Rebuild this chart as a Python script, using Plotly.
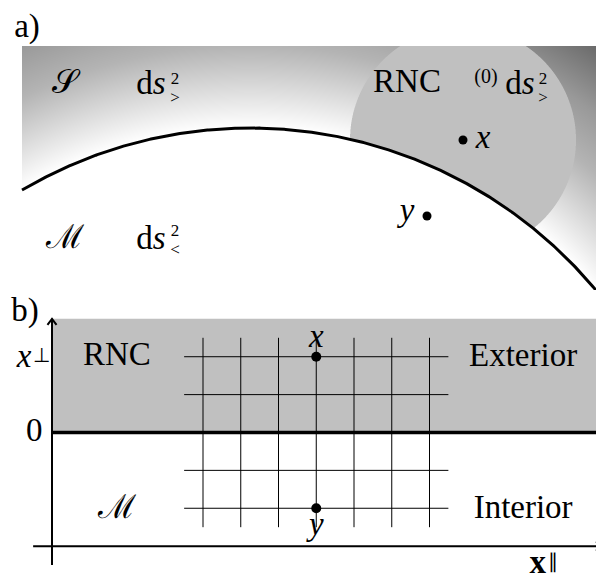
import numpy as np
import plotly.graph_objects as go

# ---------------- panel a) : curved interface with RNC patch ----------------
# panel a uses picture units (x to the right, y downward), 596 x 290
a_width, a_height = 596, 290
shade_box = [22, 596, 46, 290]            # x0, x1, y0, y1 of the shaded region
interface_center = [250, 578]
interface_radius = 450
rnc_center = [463, 140]
rnc_radius = 113
rnc_gray = 192
# radial shading: gray level against distance outside the interface
shade_dist = [0, 82, 129, 185, 280]
shade_gray = [255, 180, 153, 106, 40]
pt_a_x = [463, 427]                       # points x and y
pt_a_y = [140, 216]

# ---------------- panel b) : flat interface and coordinate grid -------------
unit = 37.75                              # pixels per grid unit
b_xmin, b_xmax = -52 / unit, 544 / unit
b_ymin, b_ymax = (433 - 581) / unit, (433 - 291) / unit
grid_x = [4, 5, 6, 7, 8, 9, 10]
grid_y = [-2, -1, 1, 2]
grid_xspan = [3.5, 10.5]
grid_yspan = [-2.5, 2.5]
band_top = 3.0
pt_b_x = [7, 7]
pt_b_y = [2, -2]

SERIF = "Liberation Serif"
FS = 33
FS_SMALL = 20
FS_INDEX = 17

fig = go.Figure()

# ---- shading image for panel a (supersampled) ----
x0, x1, y0, y1 = shade_box
ss = 3
xs = x0 + (np.arange((x1 - x0) * ss) + 0.5) / ss
ys = y0 + (np.arange((y1 - y0) * ss) + 0.5) / ss
XX, YY = np.meshgrid(xs, ys)
dist = np.hypot(XX - interface_center[0], YY - interface_center[1]) - interface_radius
gray = np.interp(dist, shade_dist, shade_gray)
outside = dist > 0
in_rnc = np.hypot(XX - rnc_center[0], YY - rnc_center[1]) <= rnc_radius
gray = np.where(outside & in_rnc, rnc_gray, gray)
gray = np.where(outside, gray, 255.0)
gray = gray.reshape(y1 - y0, ss, x1 - x0, ss).mean(axis=(1, 3))
g8 = np.clip(np.round(gray), 0, 255).astype(np.uint8)
rgb = np.stack([g8, g8, g8], axis=-1)
fig.add_trace(go.Image(z=rgb, x0=x0 + 0.5, y0=y0 + 0.5, dx=1, dy=1,
                       xaxis="x", yaxis="y", hoverinfo="skip"))

# interface arc
arc_x = np.linspace(x0, a_width + 4, 400)
arc_y = interface_center[1] - np.sqrt(interface_radius**2 - (arc_x - interface_center[0])**2)
fig.add_trace(go.Scatter(x=arc_x, y=arc_y, mode="lines",
                         line=dict(color="black", width=3), xaxis="x", yaxis="y",
                         hoverinfo="skip"))

# points in panel a
fig.add_trace(go.Scatter(x=pt_a_x, y=pt_a_y, mode="markers",
                         marker=dict(color="black", size=9), xaxis="x", yaxis="y"))


def label(x, y, text, axis, size=FS, pos="middle center", family=SERIF):
    xa, ya = axis
    fig.add_trace(go.Scatter(x=[x], y=[y], mode="text", text=[text],
                             textposition=pos,
                             textfont=dict(family=family, size=size, color="black"),
                             xaxis=xa, yaxis=ya, hoverinfo="skip"))


A = ("x", "y")
B = ("x2", "y2")

label(27, 29, "a)", A)
label(65, 85, "𝒮", A)
label(151, 86, "d<i>s</i>", A)
label(175, 80, "2", A, FS_INDEX)
label(175, 99, "&gt;", A, FS_INDEX)
label(65, 240, "ℳ", A)
label(151, 241, "d<i>s</i>", A)
label(175, 232, "2", A, FS_INDEX)
label(175, 251, "&lt;", A, FS_INDEX)
label(407, 84, "RNC", A)
label(486, 78, "(0)", A, FS_SMALL)
label(520, 86, "d<i>s</i>", A)
label(543, 80, "2", A, FS_INDEX)
label(543, 99, "&gt;", A, FS_INDEX)
label(pt_a_x[0] + 20, pt_a_y[0], "<i>x</i>", A)
label(pt_a_x[1] - 20, pt_a_y[1] - 3, "<i>y</i>", A)

# ---- panel b ----
fig.add_trace(go.Scatter(x=[0, b_xmax + 1, b_xmax + 1, 0, 0],
                         y=[0, 0, band_top, band_top, 0], mode="lines",
                         fill="toself", fillcolor="rgb(192,192,192)",
                         line=dict(width=0), xaxis="x2", yaxis="y2", hoverinfo="skip"))

gx, gy = [], []
for yv in grid_y:
    gx += [grid_xspan[0], grid_xspan[1], None]
    gy += [yv, yv, None]
for xv in grid_x:
    gx += [xv, xv, None]
    gy += [grid_yspan[0], grid_yspan[1], None]
fig.add_trace(go.Scatter(x=gx, y=gy, mode="lines", line=dict(color="black", width=1),
                         xaxis="x2", yaxis="y2", hoverinfo="skip"))

# interface line
fig.add_trace(go.Scatter(x=[0, b_xmax + 1], y=[0, 0], mode="lines",
                         line=dict(color="black", width=3.5),
                         xaxis="x2", yaxis="y2", hoverinfo="skip"))

# coordinate axes with arrow tips
ax_tip_y = band_top
ax_tip_x = b_xmax + 0.15
axis_x = [0, 0, None, -0.5, ax_tip_x, None,
          -0.12, 0, 0.12, None,
          ax_tip_x - 0.15, ax_tip_x, ax_tip_x - 0.15]
axis_y = [-3.5, ax_tip_y, None, -3.0, -3.0, None,
          ax_tip_y - 0.16, ax_tip_y, ax_tip_y - 0.16, None,
          -3.0 + 0.12, -3.0, -3.0 - 0.12]
fig.add_trace(go.Scatter(x=axis_x, y=axis_y, mode="lines",
                         line=dict(color="black", width=2),
                         xaxis="x2", yaxis="y2", hoverinfo="skip"))

fig.add_trace(go.Scatter(x=pt_b_x, y=pt_b_y, mode="markers",
                         marker=dict(color="black", size=10), xaxis="x2", yaxis="y2"))

label(-0.715, 3.15, "b)", B)
label(-0.74, 1.95, "<i>x</i>", B)
label(-0.29, 1.98, "⊥", B, FS_SMALL)
label(-0.25, 0.0, "0", B, pos="middle left")
label(1.72, 2.0, "RNC", B)
label(1.72, -2.05, "ℳ", B)
label(12.48, 1.96, "Exterior", B)
label(12.48, -2.04, "Interior", B)
label(pt_b_x[0], pt_b_y[0] + 0.48, "<i>x</i>", B)
label(pt_b_x[1], pt_b_y[1] - 0.5, "<i>y</i>", B)
label(12.87, -3.5, "<b>x</b>", B)
label(13.27, -3.45, "∥", B, FS_SMALL)

split = 1 - a_height / 581
hidden = dict(visible=False, showgrid=False, zeroline=False)
fig.update_layout(
    width=596, height=581,
    margin=dict(l=0, r=0, t=0, b=0),
    paper_bgcolor="white", plot_bgcolor="rgba(0,0,0,0)",
    showlegend=False,
    xaxis=dict(domain=[0, 1], range=[0, a_width], anchor="y", **hidden),
    yaxis=dict(domain=[split, 1], range=[a_height, 0], anchor="x", **hidden),
    xaxis2=dict(domain=[0, 1], range=[b_xmin, b_xmax], anchor="y2", **hidden),
    yaxis2=dict(domain=[0, split], range=[b_ymin, b_ymax], anchor="x2", **hidden),
)

fig.write_html("out.html")
